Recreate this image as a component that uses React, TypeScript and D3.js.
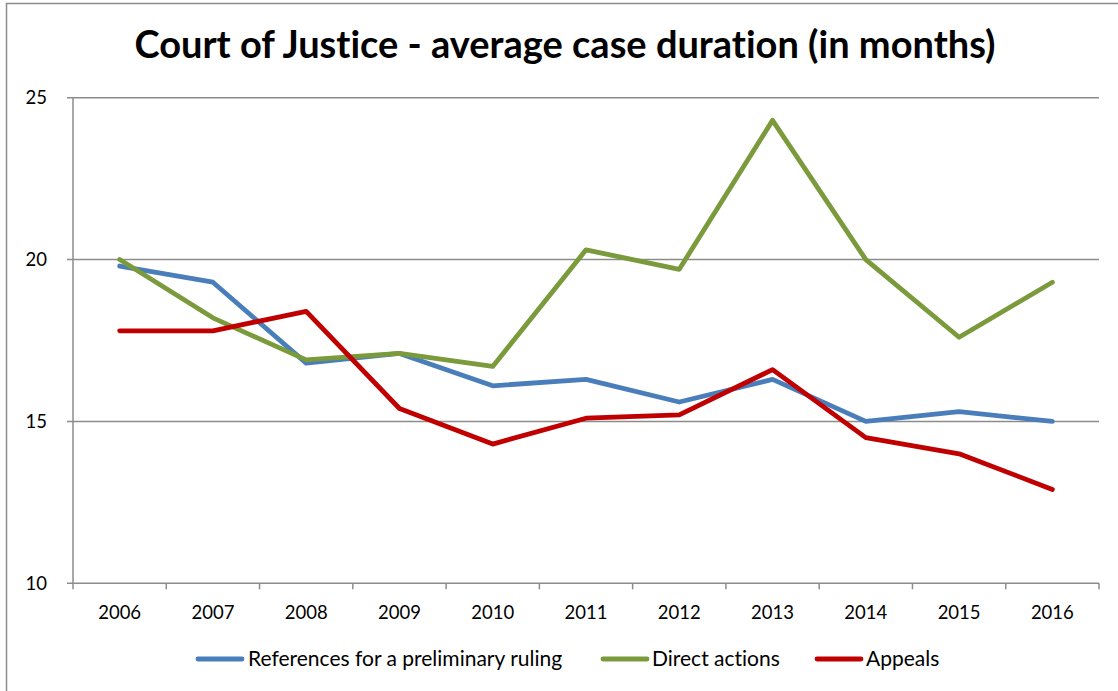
import React from "react";
import * as d3 from "d3";

const years = ["2006", "2007", "2008", "2009", "2010", "2011", "2012", "2013", "2014", "2015", "2016"];
const references = [19.8, 19.3, 16.8, 17.1, 16.1, 16.3, 15.6, 16.3, 15.0, 15.3, 15.0];
const directActions = [20.0, 18.2, 16.9, 17.1, 16.7, 20.3, 19.7, 24.3, 20.0, 17.6, 19.3];
const appeals = [17.8, 17.8, 18.4, 15.4, 14.3, 15.1, 15.2, 16.6, 14.5, 14.0, 12.9];
const yTicks = [10, 15, 20, 25];
const seriesNames = ["References for a preliminary ruling", "Direct actions", "Appeals"];
const seriesColors = ["#4A7EBB", "#7A9A3C", "#C00000"];
const title = "Court of Justice - average case duration (in months)";

const W = 1118;
const H = 691;
const FONT = "Lato, 'Liberation Sans', sans-serif";

export default function App() {
  const left = 73;
  const right = 1099;
  const top = 97.7;
  const bottom = 583.3;
  const x = d3.scaleBand<string>().domain(years).range([left, right]).padding(0);
  const y = d3.scaleLinear().domain([10, 25]).range([bottom, top]);
  const cx = (d: string) => (x(d) as number) + x.bandwidth() / 2;
  const line = d3
    .line<number>()
    .x((_, i) => cx(years[i]))
    .y((v) => y(v));
  const all = [references, directActions, appeals];
  const tickXs = years.map((d) => x(d) as number).concat([right]);

  const legendItems = [
    { sx: 198, tx: 248 },
    { sx: 603, tx: 652 },
    { sx: 817, tx: 866 },
  ];
  const legendY = 659;

  return (
    <svg
      width={W}
      height={H}
      style={{ position: "absolute", left: 0, top: 0, background: "#fff", fontVariantLigatures: "none" }}
      fontFamily={FONT}
    >
      <rect x={0} y={0} width={W} height={H} fill="#fff" />
      <path d={`M6.5,${H + 2} V3.5 H${W + 2}`} fill="none" stroke="#8c8c8c" strokeWidth={1.5} />
      <text x={565} y={58} textAnchor="middle" fontSize={38} fontWeight={700} fill="#000">
        {title}
      </text>
      {yTicks.map((t) => (
        <g key={t}>
          <line x1={67} x2={right} y1={y(t)} y2={y(t)} stroke="#8c8c8c" strokeWidth={1.5} />
          <text x={47} y={y(t)} dy="0.35em" textAnchor="end" fontSize={18.5} fill="#000">
            {t}
          </text>
        </g>
      ))}
      <line x1={left} x2={left} y1={top} y2={bottom} stroke="#8c8c8c" strokeWidth={1.5} />
      {tickXs.map((tx, i) => (
        <line key={i} x1={tx} x2={tx} y1={bottom} y2={bottom + 6} stroke="#8c8c8c" strokeWidth={1.5} />
      ))}
      {years.map((yr) => (
        <text key={yr} x={cx(yr)} y={613} dy="0.35em" textAnchor="middle" fontSize={18.5} fill="#000">
          {yr}
        </text>
      ))}
      {all.map((s, i) => (
        <path
          key={i}
          d={line(s) as string}
          fill="none"
          stroke={seriesColors[i]}
          strokeWidth={4.8}
          strokeLinejoin="round"
          strokeLinecap="round"
        />
      ))}
      {seriesNames.map((n, i) => (
        <g key={n}>
          <line
            x1={legendItems[i].sx}
            x2={legendItems[i].sx + 44}
            y1={legendY}
            y2={legendY}
            stroke={seriesColors[i]}
            strokeWidth={4.8}
            strokeLinecap="round"
          />
          <text x={legendItems[i].tx} y={legendY} dy="0.35em" fontSize={21} fill="#000">
            {n}
          </text>
        </g>
      ))}
    </svg>
  );
}
